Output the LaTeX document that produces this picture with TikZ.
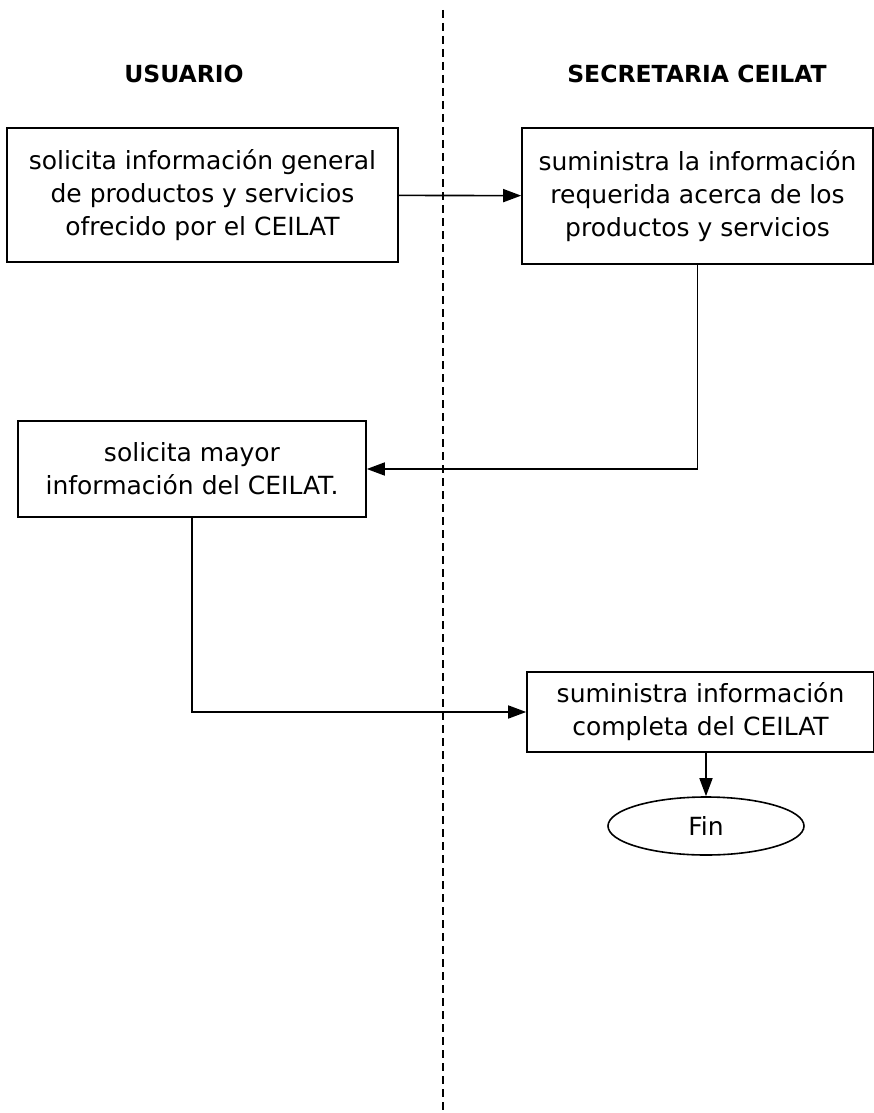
\documentclass[tikz,border=0pt]{standalone}
\usepackage{fontspec}
\setmainfont{DejaVu Sans}
\usepackage{tikz}
\usetikzlibrary{shapes.geometric,arrows.meta}

\begin{document}
\begin{tikzpicture}[x=1pt,y=-1pt]
                \tikzstyle{paso}=[rectangle, draw=black, fill=white, line width=1.6pt, align=center, inner sep=0pt, font=\fontsize{25}{33}\selectfont]
                \tikzstyle{titulo}=[font=\fontsize{23.5}{26}\selectfont\bfseries]
                \tikzstyle{flecha} = [draw, line width=1.6pt, -{Triangle[length=18pt,width=13pt]}]

                \useasboundingbox (0,0) rectangle (874,1113);
                \draw[line width=1.3pt, dash pattern=on 8pt off 5pt] (443,10) -- (443,1113);

                \node[titulo] (usr) at (184,74) {USUARIO};
                \node[titulo] (sec) at (697,74) {SECRETARIA CEILAT};

                \node[paso, minimum width=391, minimum height=134] (a) at (202.5,195) {solicita información general\\de productos y servicios\\ofrecido por el CEILAT};
                \node[paso, minimum width=351, minimum height=136] (b) at (697.5,196) {suministra la información\\requerida acerca de los\\productos y servicios};
                \node[paso, minimum width=348, minimum height=96] (c) at (192,469) {solicita mayor\\información del CEILAT.};
                \node[paso, minimum width=347, minimum height=80] (d) at (700.5,712) {suministra información\\completa del CEILAT};
                \node[ellipse, draw=black, line width=1.6pt, minimum width=196, minimum height=58, font=\fontsize{25}{28}\selectfont] (fin) at (706,826) {Fin};

                \path[flecha] (a) -- (b);
                \path[flecha] (b.south) |- (c.east);
                \path[flecha] (c.south) |- (d.west);
                \path[flecha] (fin.north |- d.south) -- (fin.north);
            \end{tikzpicture}
\end{document}
